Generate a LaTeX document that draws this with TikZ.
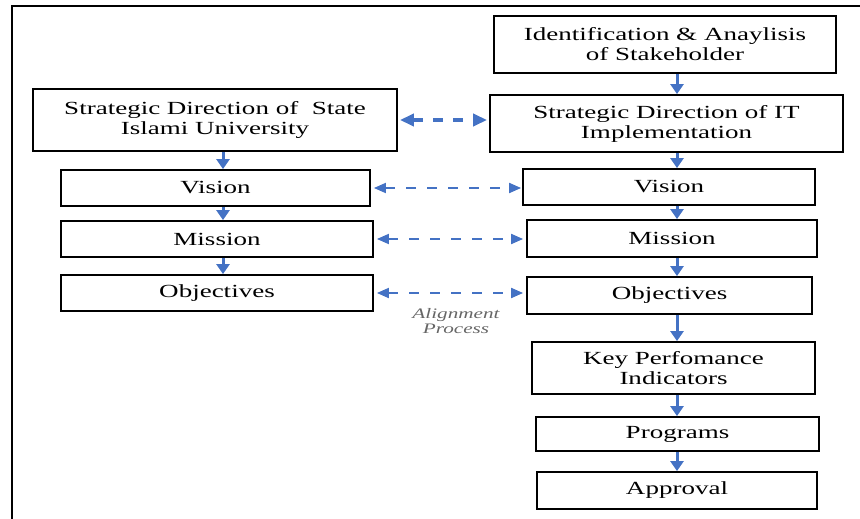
\documentclass[tikz,border=0pt]{standalone}
\usepackage{fontspec}
\setmainfont{Liberation Serif}[FakeStretch=1.46]
\usetikzlibrary{arrows.meta}
\definecolor{flowblue}{HTML}{4472C4}
\begin{document}
\begin{tikzpicture}[x=1pt,y=-1pt,
  box/.style={draw,line width=1.8pt,inner sep=0pt,align=center,font=\fontsize{18.5}{20}\selectfont},
  flow/.style={-{Triangle[length=10pt,width=13pt]},line width=3pt,flowblue},
  link/.style={{Triangle[length=12pt,width=10pt]}-{Triangle[length=12pt,width=10pt]},line width=1.8pt,flowblue,dash pattern=on 10pt off 11pt},
  biglink/.style={{Triangle[length=14pt,width=12pt]}-{Triangle[length=14pt,width=12pt]},line width=3.6pt,flowblue,dash pattern=on 10pt off 10pt}]

\useasboundingbox (0,0) rectangle (860,519);
\draw[line width=2pt] (12,519) -- (12,6) -- (860,6);

\node[box,minimum width=342pt,minimum height=57pt] (ident) at (665,44.5) {Identification \& Anaylisis\\of Stakeholder};
\node[box,minimum width=353pt,minimum height=57pt] (sdit) at (666.5,123.5) {Strategic Direction of IT\\Implementation};
\node[box,minimum width=364pt,minimum height=62pt] (sdsiu) at (215,120) {Strategic Direction of\ \ State\\Islami University};

\node[box,minimum width=309pt,minimum height=36pt] (visL) at (215.5,188) {Vision};
\node[box,minimum width=312pt,minimum height=36pt] (misL) at (217,239) {Mission};
\node[box,minimum width=312pt,minimum height=36pt] (objL) at (217,293) {Objectives};

\node[box,minimum width=292pt,minimum height=36pt] (visR) at (669,187) {Vision};
\node[box,minimum width=290pt,minimum height=37pt] (misR) at (672,238.5) {Mission};
\node[box,minimum width=285pt,minimum height=37pt] (objR) at (669.5,295.5) {Objectives};
\node[box,minimum width=283pt,minimum height=52pt] (kpi) at (673.5,368) {Key Perfomance\\Indicators};
\node[box,minimum width=283pt,minimum height=34pt] (prog) at (677.5,434) {Programs};
\node[box,minimum width=280pt,minimum height=37pt] (appr) at (677,490.5) {Approval};

\node[align=center,text=black!60,font=\fontsize{14.5}{15}\selectfont\itshape] (align) at (456,321) {Alignment\\Process};

\coordinate (colL) at (223,0);
\coordinate (colR) at (677,0);

\draw[flow] (sdsiu.south -| colL) -- (visL.north -| colL);
\draw[flow] (visL.south -| colL) -- (misL.north -| colL);
\draw[flow] (misL.south -| colL) -- (objL.north -| colL);

\draw[flow] (ident.south -| colR) -- (sdit.north -| colR);
\draw[flow] (sdit.south -| colR) -- (visR.north -| colR);
\draw[flow] (visR.south -| colR) -- (misR.north -| colR);
\draw[flow] (misR.south -| colR) -- (objR.north -| colR);
\draw[flow] (objR.south -| colR) -- (kpi.north -| colR);
\draw[flow] (kpi.south -| colR) -- (prog.north -| colR);
\draw[flow] (prog.south -| colR) -- (appr.north -| colR);

\draw[biglink,shorten <=2pt,shorten >=2pt] (sdsiu.east) -- (sdsiu.east -| sdit.west);
\draw[link,shorten <=3pt,shorten >=1pt] (visL.east) -- (visL.east -| visR.west);
\draw[link,shorten <=3pt,shorten >=3pt] (misL.east) -- (misL.east -| misR.west);
\draw[link,shorten <=3pt,shorten >=3pt] (objL.east) -- (objL.east -| objR.west);

\end{tikzpicture}
\end{document}
